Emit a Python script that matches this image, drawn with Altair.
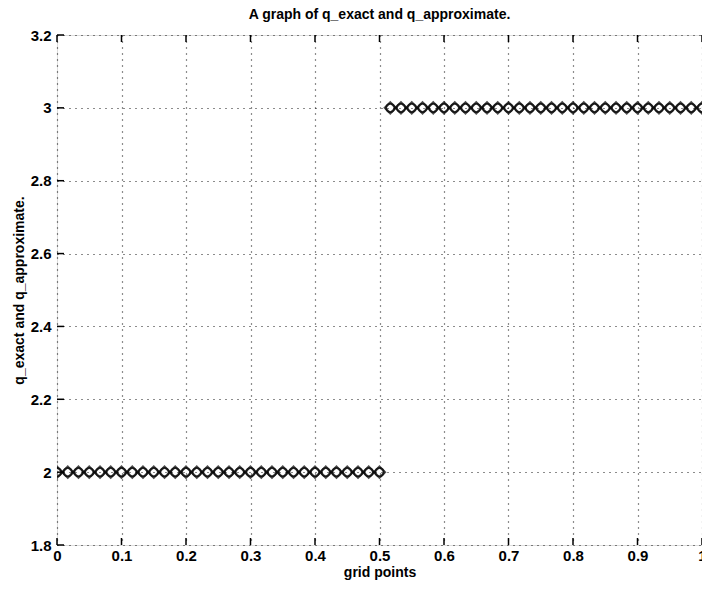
import altair as alt
import pandas as pd

grid_x = [0.0, 0.0167, 0.0333, 0.05, 0.0667, 0.0833, 0.1, 0.1167, 0.1333, 0.15,
          0.1667, 0.1833, 0.2, 0.2167, 0.2333, 0.25, 0.2667, 0.2833, 0.3, 0.3167,
          0.3333, 0.35, 0.3667, 0.3833, 0.4, 0.4167, 0.4333, 0.45, 0.4667, 0.4833,
          0.5, 0.5167, 0.5333, 0.55, 0.5667, 0.5833, 0.6, 0.6167, 0.6333, 0.65,
          0.6667, 0.6833, 0.7, 0.7167, 0.7333, 0.75, 0.7667, 0.7833, 0.8, 0.8167,
          0.8333, 0.85, 0.8667, 0.8833, 0.9, 0.9167, 0.9333, 0.95, 0.9667, 0.9833,
          1.0]
q_exact = [2, 2, 2, 2, 2, 2, 2, 2, 2, 2, 2, 2, 2, 2, 2, 2, 2, 2, 2, 2, 2, 2, 2, 2, 2, 2,
           2, 2, 2, 2, 2,
           3, 3, 3, 3, 3, 3, 3, 3, 3, 3, 3, 3, 3, 3, 3, 3, 3, 3, 3, 3, 3, 3, 3, 3, 3,
           3, 3, 3, 3, 3]
q_approx = [2, 2, 2, 2, 2, 2, 2, 2, 2, 2, 2, 2, 2, 2, 2, 2, 2, 2, 2, 2, 2, 2, 2, 2, 2, 2,
            2, 2, 2, 2, 2,
            3, 3, 3, 3, 3, 3, 3, 3, 3, 3, 3, 3, 3, 3, 3, 3, 3, 3, 3, 3, 3, 3, 3, 3, 3,
            3, 3, 3, 3, 3]
x_ticks = [0, 0.1, 0.2, 0.3, 0.4, 0.5, 0.6, 0.7, 0.8, 0.9, 1.0]
y_ticks = [1.8, 2.0, 2.2, 2.4, 2.6, 2.8, 3.0, 3.2]

W, H = 645, 510
FONT = "Liberation Sans"

df = pd.DataFrame({"x": grid_x, "exact": q_exact, "approx": q_approx})

xscale = alt.Scale(domain=[0, 1], nice=False)
yscale = alt.Scale(domain=[1.8, 3.2], nice=False)

xaxis = alt.Axis(values=x_ticks, format=".1~f", title="grid points",
                 grid=True, gridColor="black", gridDash=[1, 5], gridWidth=1.2,
                 gridOpacity=0.9, ticks=False, labelPadding=3,
                 labelFont=FONT, labelFontSize=15, labelFontWeight="bold", labelColor="black",
                 titleFont=FONT, titleFontSize=14, titleFontWeight="bold", titleColor="black",
                 titlePadding=2, domain=False, labelFlush=False)
yaxis = alt.Axis(values=y_ticks, format=".1~f", title="q_exact and q_approximate.",
                 grid=True, gridColor="black", gridDash=[1, 5], gridWidth=1.2,
                 gridOpacity=0.9, ticks=False, labelPadding=6,
                 labelFont=FONT, labelFontSize=15, labelFontWeight="bold", labelColor="black",
                 titleFont=FONT, titleFontSize=14, titleFontWeight="bold", titleColor="black",
                 titlePadding=4, domain=False, labelFlush=False)

base = alt.Chart(df)

exact_pts = base.mark_point(shape="diamond", filled=False, color="black",
                            strokeWidth=2.2, size=120, clip=True).encode(
    x=alt.X("x:Q", scale=xscale, axis=xaxis),
    y=alt.Y("exact:Q", scale=yscale, axis=yaxis),
)
approx_pts = base.mark_point(shape="circle", filled=False, color="black",
                             strokeWidth=2, size=70, clip=True).encode(
    x=alt.X("x:Q", scale=xscale),
    y=alt.Y("approx:Q", scale=yscale),
)

xt = pd.DataFrame({"t": x_ticks})
yt = pd.DataFrame({"t": y_ticks})
xticks_bottom = alt.Chart(xt).mark_rule(color="black", strokeWidth=1.5).encode(
    x=alt.X("t:Q", scale=xscale), y=alt.value(H), y2=alt.value(H - 7))
xticks_top = alt.Chart(xt).mark_rule(color="black", strokeWidth=1.5).encode(
    x=alt.X("t:Q", scale=xscale), y=alt.value(0), y2=alt.value(7))
yticks_left = alt.Chart(yt).mark_rule(color="black", strokeWidth=1.5).encode(
    y=alt.Y("t:Q", scale=yscale), x=alt.value(0), x2=alt.value(7))

chart = alt.layer(exact_pts, approx_pts, xticks_bottom, xticks_top, yticks_left).properties(
    width=W, height=H,
    title=alt.TitleParams("A graph of q_exact and q_approximate.", font=FONT,
                          fontSize=14, fontWeight="bold", color="black",
                          anchor="middle", offset=6),
    padding={"left": 57, "top": 35, "right": 0, "bottom": 46},
    autosize=alt.AutoSizeParams(type="none"),
).configure_view(stroke="black", strokeWidth=2).configure(background="white")

chart.save("out.html", embed_options={"renderer": "svg", "actions": False})
